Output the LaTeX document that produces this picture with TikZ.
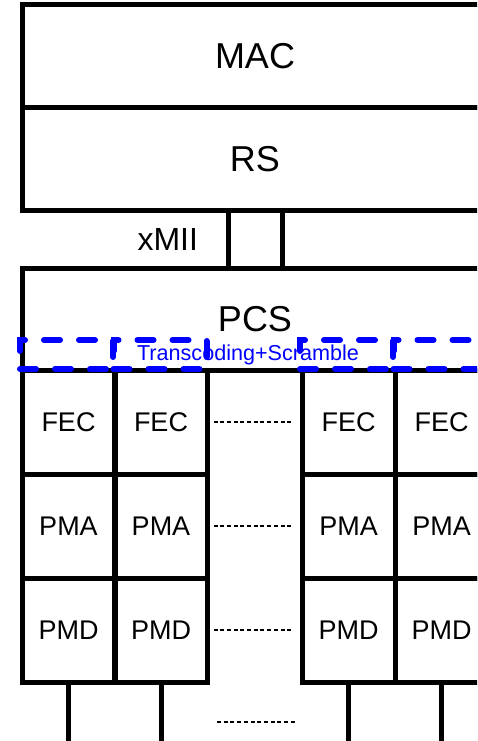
\documentclass[tikz,border=0pt]{standalone}
\usepackage{fontspec}
\setmainfont{Liberation Sans}
\usetikzlibrary{positioning}

\begin{document}
\begin{tikzpicture}[x=1pt, y=-1pt,
                    layer/.style={draw, line width=5pt, minimum width=466pt, font=\fontsize{36}{36}\selectfont},
                    sub/.style={draw, line width=5pt, outer sep=0pt, minimum width=93pt, minimum height=104pt, font=\fontsize{27}{27}\selectfont},
                    scr/.style={draw=blue, line width=6pt, dash pattern=on 16pt off 19pt, line cap=round, minimum width=93pt, minimum height=29pt},
                    gap/.style={line width=1.6pt, dash pattern=on 4pt off 2.7pt, shorten <=6pt, shorten >=9pt}]
                \useasboundingbox (0,0) rectangle (477,741);
                \clip (0,0) rectangle (477,741);
                \node[layer, minimum height=103pt] (mac) at (255,56.5) {MAC};
                \node[layer, minimum height=102pt] (rs) at (255,159) {RS};
                \node[draw, line width=5pt, minimum width=54pt, minimum height=58pt] (xmii) at (255,239) {};
                \node[font=\fontsize{32}{32}\selectfont, left=24pt of xmii] (xmiilabel) {xMII};
                \node[layer, minimum height=102pt] (pcs) at (255,319) {PCS};
                \coordinate (bot) at (0,750);
                \foreach \i/\x in {1/68.5, 2/161, 3/348.5, 4/441.5}{
                        \node[sub] (fec\i) at (\x,422) {FEC};
                        \node[sub, below=0pt of fec\i] (pma\i) {PMA};
                        \node[sub, below=0pt of pma\i] (pmd\i) {PMD};
                        \draw[line width=5pt] (pmd\i.south) -- (pmd\i.south |- bot);
                    }
                \draw[gap] (fec2) -- (fec3);
                \draw[gap] (pma2) -- (pma3);
                \draw[gap] (pmd2) -- (pmd3);
                \coordinate (lnl) at (211,722);
                \coordinate (lnr) at (306,722);
                \draw[gap] (lnl) -- (lnr);
                \node[text=blue, font=\fontsize{21.6}{21.6}\selectfont] (ts) at (248,355) {Transcoding+Scramble};
                \foreach \i/\x in {1/66.5, 2/160, 3/346.5, 4/440}
                        \node[scr] (scr\i) at (\x,354.5) {};
            \end{tikzpicture}
\end{document}
